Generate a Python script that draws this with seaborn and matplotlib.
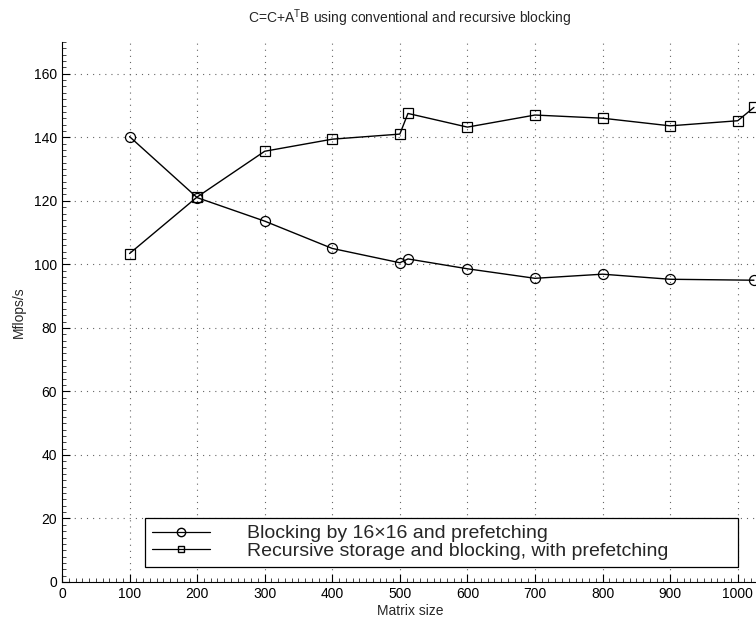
import pandas as pd
import matplotlib.pyplot as plt
import seaborn as sns
from matplotlib.ticker import MultipleLocator

sns.set_theme(style="white")
plt.rcParams['font.family'] = ['Liberation Sans', 'DejaVu Sans']
plt.rcParams['mathtext.fontset'] = 'custom'
plt.rcParams['mathtext.rm'] = 'Liberation Sans'

# data
sizes_blk = [100, 200, 300, 400, 500, 512, 600, 700, 800, 900, 1024]
mflops_blk = [140.2, 121.0, 113.6, 105.0, 100.5, 101.7, 98.6, 95.6, 96.9, 95.3, 95.0]
sizes_rec = [100, 200, 300, 400, 500, 512, 600, 700, 800, 900, 1000, 1024]
mflops_rec = [103.4, 121.2, 135.6, 139.4, 141.0, 147.5, 143.2, 147.0, 146.0, 143.6, 145.2, 149.4]
labels = ['Blocking by 16\u00d716 and prefetching',
          'Recursive storage and blocking, with prefetching']

df = pd.concat([
    pd.DataFrame({'size': sizes_blk, 'mflops': mflops_blk, 'method': labels[0]}),
    pd.DataFrame({'size': sizes_rec, 'mflops': mflops_rec, 'method': labels[1]}),
])

fig = plt.figure(figsize=(7.56, 6.2), dpi=100)
ax = fig.add_axes([0.082, 0.0613, 0.9206, 0.871])

sns.lineplot(data=df, x='size', y='mflops', style='method', markers=['o', 's'],
             dashes=False, color='black', linewidth=1.0, markersize=7.2,
             markerfacecolor='none', markeredgecolor='black', markeredgewidth=0.9,
             sort=False, estimator=None, ax=ax, legend=False, clip_on=False)

ax.set_xlim(0, 1030)
ax.set_ylim(0, 170)
ax.xaxis.set_major_locator(MultipleLocator(100))
ax.yaxis.set_major_locator(MultipleLocator(20))
ax.xaxis.set_minor_locator(MultipleLocator(10))
ax.yaxis.set_minor_locator(MultipleLocator(2))
ax.tick_params(which='major', direction='in', length=6, width=0.8, labelsize=10,
               bottom=True, left=True, colors='black')
ax.tick_params(which='minor', direction='in', length=3, width=0.6,
               bottom=True, left=True)
for s in ['top', 'right']:
    ax.spines[s].set_visible(False)
for s in ['left', 'bottom']:
    ax.spines[s].set_color('black')
    ax.spines[s].set_linewidth(0.8)

ax.grid(True, which='major', color='#666666', linestyle=(0, (1, 4.5)), linewidth=0.8)

ax.set_title(r'C=C+A$^{\mathrm{T}}$B using conventional and recursive blocking',
             fontsize=10, pad=14)
ax.set_xlabel('Matrix size', fontsize=10, labelpad=2)
ax.set_ylabel('Mflops/s', fontsize=10, labelpad=6)

handles = [plt.Line2D([], [], color='black', lw=0.9, marker='o', mfc='none',
                      mec='black', markersize=6),
           plt.Line2D([], [], color='black', lw=0.9, marker='s', mfc='none',
                      mec='black', markersize=5)]
leg = ax.legend(handles, labels, loc='lower left',
                bbox_to_anchor=(0.119, 0.028, 0.852, 0.1), mode='expand',
                fontsize=14, frameon=True, fancybox=False, handlelength=3.0,
                handletextpad=1.9, borderpad=0.35, labelspacing=0.0,
                borderaxespad=0)
leg.get_frame().set_edgecolor('black')
leg.get_frame().set_linewidth(0.9)
leg.get_frame().set_alpha(1)

fig.savefig('out.png', dpi=100)
